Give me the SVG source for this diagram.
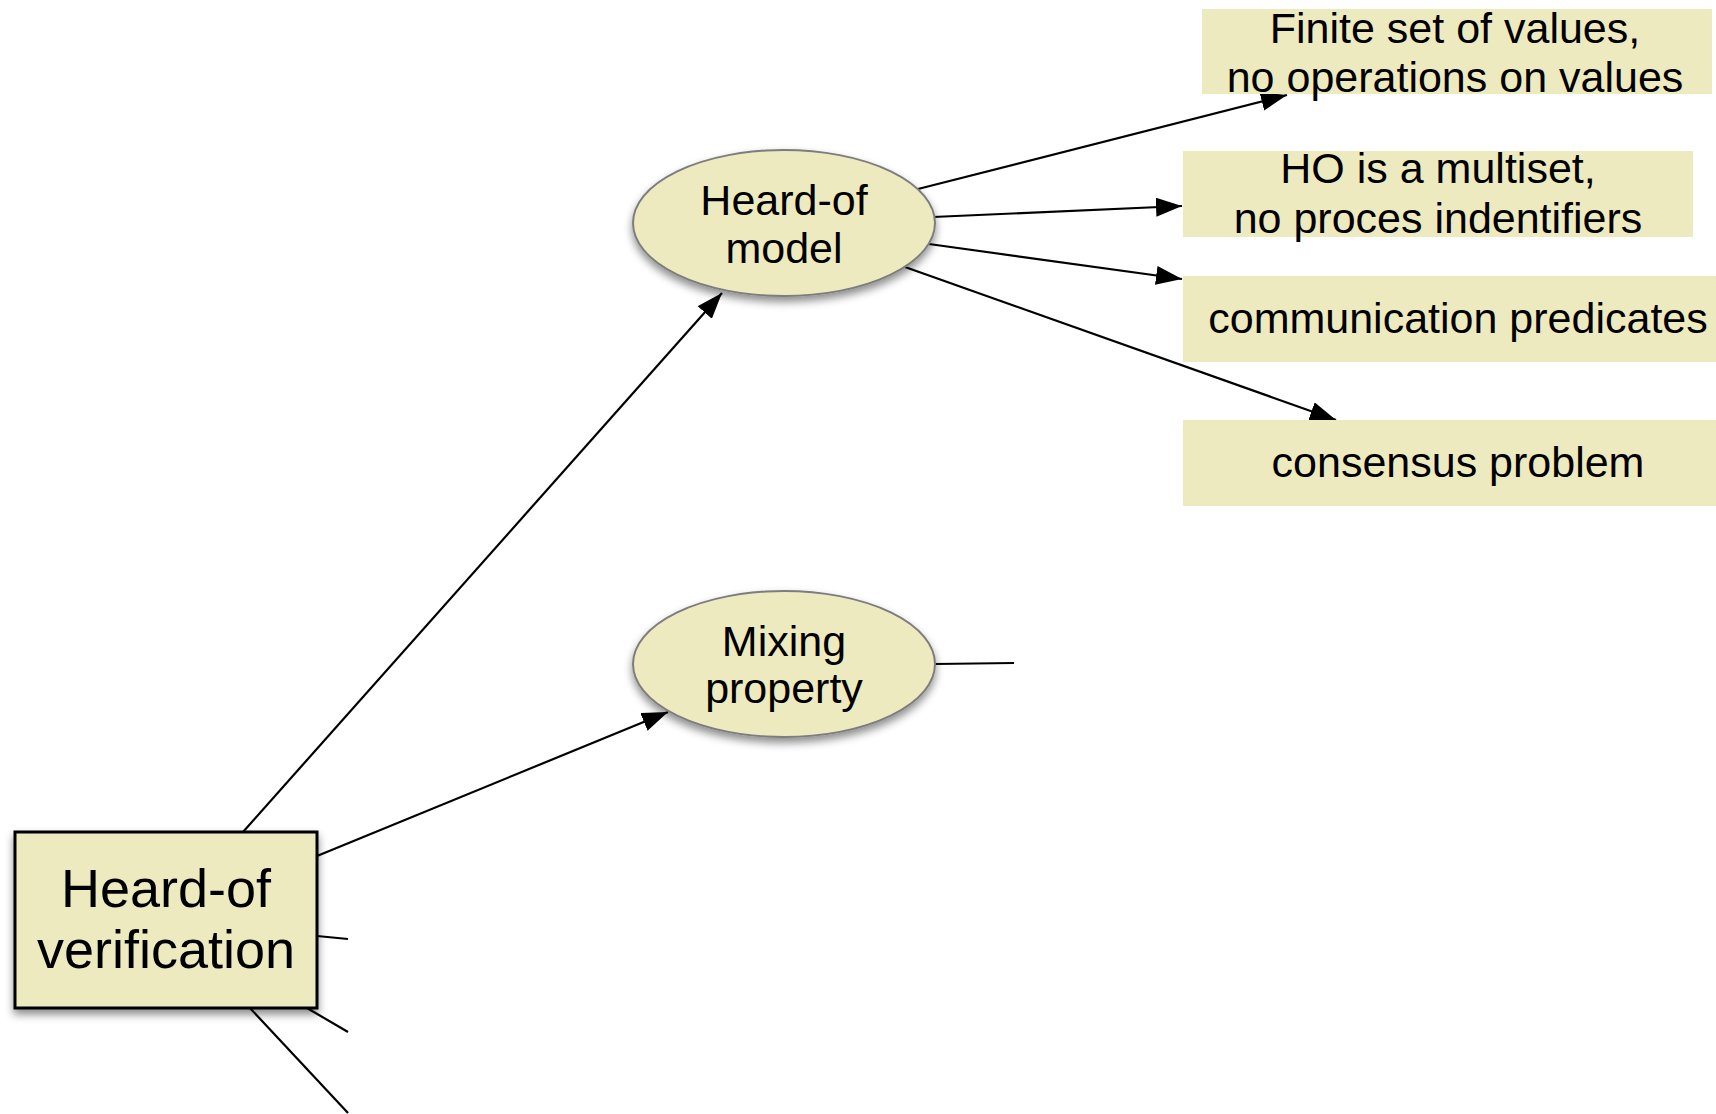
<svg xmlns="http://www.w3.org/2000/svg" width="1716" height="1114" viewBox="0 0 1716 1114">
  <style>
    .lbl { font-family: "Liberation Sans", Arial, Helvetica, sans-serif; fill: #000; text-anchor: middle; }
    .ell { fill: #EEEAC0; stroke: #7d7d7d; stroke-width: 2; }
    .root { fill: #EEEAC0; stroke: #000; stroke-width: 3; }
    .note { fill: #EEEAC0; stroke: none; }
    .edge { fill: none; stroke: #000; stroke-width: 2.2; }
  </style>
  <defs>
    <filter id="shadow" x="-20%" y="-20%" width="140%" height="150%">
      <feDropShadow dx="0" dy="5" stdDeviation="4" flood-color="#000" flood-opacity="0.45"/>
    </filter>
    <marker id="arrow" markerUnits="userSpaceOnUse" markerWidth="27" markerHeight="20" refX="26" refY="9.5" orient="auto">
      <path d="M0,0 L26,9.5 L0,19 z" fill="#000"/>
    </marker>
  </defs>

  <rect width="1716" height="1114" fill="#fff"/>

  <!-- connectors -->
  <g id="connectors">
    <line class="edge" x1="243" y1="832" x2="722" y2="293" marker-end="url(#arrow)"/>
    <line class="edge" x1="317" y1="856" x2="668" y2="712" marker-end="url(#arrow)"/>
    <line class="edge" x1="317" y1="936" x2="348" y2="939"/>
    <line class="edge" x1="307" y1="1008" x2="348" y2="1032"/>
    <line class="edge" x1="249" y1="1007" x2="348" y2="1113"/>
    <line class="edge" x1="918" y1="189" x2="1287" y2="95" marker-end="url(#arrow)"/>
    <line class="edge" x1="933" y1="217" x2="1182" y2="206" marker-end="url(#arrow)"/>
    <line class="edge" x1="929" y1="244" x2="1182" y2="279" marker-end="url(#arrow)"/>
    <line class="edge" x1="905" y1="267" x2="1336" y2="420" marker-end="url(#arrow)"/>
    <line class="edge" x1="935" y1="664" x2="1014" y2="663"/>
  </g>

  <!-- root node -->
  <g id="heard-of-verification">
    <rect class="root" x="15" y="832" width="302" height="176" filter="url(#shadow)"/>
    <text class="lbl" font-size="54" x="166" y="907">Heard-of</text>
    <text class="lbl" font-size="54" x="166" y="968">verification</text>
  </g>

  <g id="heard-of-model">
    <ellipse class="ell" cx="784" cy="223" rx="151" ry="73" filter="url(#shadow)"/>
    <text class="lbl" font-size="43" x="784" y="215">Heard-of</text>
    <text class="lbl" font-size="43" x="784" y="263">model</text>
  </g>

  <g id="mixing-property">
    <ellipse class="ell" cx="784" cy="664" rx="151" ry="73" filter="url(#shadow)"/>
    <text class="lbl" font-size="43" x="784" y="656">Mixing</text>
    <text class="lbl" font-size="43" x="784" y="703">property</text>
  </g>

  <g id="finite-values">
    <rect class="note" x="1202" y="9" width="510" height="85"/>
    <text class="lbl" font-size="43" x="1455" y="43">Finite set of values,</text>
    <text class="lbl" font-size="43" x="1455" y="92">no operations on values</text>
  </g>

  <g id="ho-multiset">
    <rect class="note" x="1183" y="151" width="510" height="86"/>
    <text class="lbl" font-size="43" x="1438" y="183">HO is a multiset,</text>
    <text class="lbl" font-size="43" x="1438" y="233">no proces indentifiers</text>
  </g>

  <g id="communication-predicates">
    <rect class="note" x="1183" y="276" width="550" height="86"/>
    <text class="lbl" font-size="43" x="1458" y="333">communication predicates</text>
  </g>

  <g id="consensus-problem">
    <rect class="note" x="1183" y="420" width="550" height="86"/>
    <text class="lbl" font-size="43" x="1458" y="477">consensus problem</text>
  </g>
</svg>
